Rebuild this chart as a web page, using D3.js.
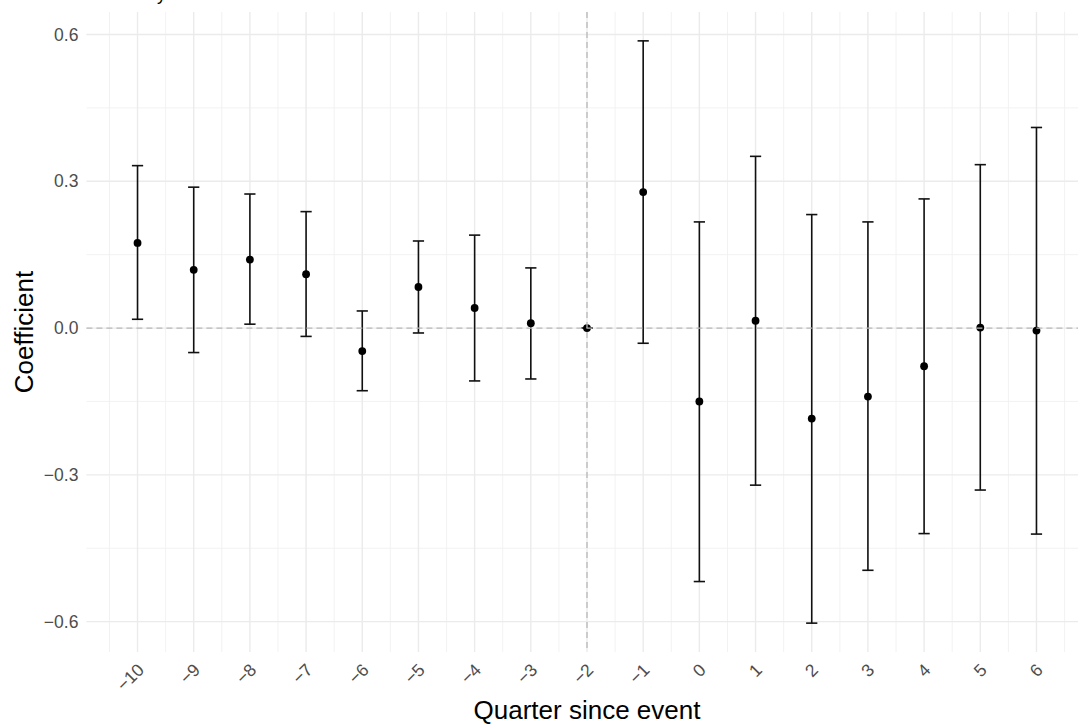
<!DOCTYPE html>
<html>
<head>
<meta charset="utf-8">
<script src="https://cdn.jsdelivr.net/npm/d3@7"></script>
<style>
  body { margin: 0; background: #fff; }
  svg { display: block; }
  text { font-family: "Liberation Sans", Arial, sans-serif; }
</style>
</head>
<body>
<div id="viz"></div>
<script>
// data
const quarters = [-10, -9, -8, -7, -6, -5, -4, -3, -2, -1, 0, 1, 2, 3, 4, 5, 6];
const coef  = [0.174, 0.119, 0.140, 0.110, -0.047, 0.084, 0.041, 0.010, 0.000, 0.278, -0.150, 0.015, -0.185, -0.140, -0.078, 0.001, -0.005];
const lower = [0.018, -0.050, 0.008, -0.017, -0.128, -0.010, -0.108, -0.104, 0.000, -0.031, -0.518, -0.321, -0.603, -0.495, -0.420, -0.331, -0.421];
const upper = [0.332, 0.288, 0.274, 0.238, 0.035, 0.178, 0.190, 0.123, 0.000, 0.587, 0.217, 0.351, 0.232, 0.217, 0.264, 0.334, 0.410];
const yTicks = [-0.6, -0.3, 0.0, 0.3, 0.6];
const yMinor = [-0.45, -0.15, 0.15, 0.45];

const w = 1078;
const h = 725;
const pTop = 12, pBottom = 652, pLeft = 86.4, pRight = 1087.6;

const svg = d3.select('#viz').
append('svg').
attr('width', w).
attr('height', h);

const xScale = d3.scaleLinear().
domain([-10.91, 6.91]).
range([pLeft, pRight]);

const yScale = d3.scaleLinear().
domain([-0.662, 0.646]).
range([pBottom, pTop]);

const xMinor = quarters.map(q => q - 0.5).concat([6.5]);

// grid
const grid = svg.append('g');
grid.selectAll('.yminor').
data(yMinor).
enter().
append('line').
attr('x1', pLeft).attr('x2', w).
attr('y1', d => yScale(d)).attr('y2', d => yScale(d)).
attr('stroke', '#f1f1f1').attr('stroke-width', 0.9);

grid.selectAll('.xminor').
data(xMinor).
enter().
append('line').
attr('x1', d => xScale(d)).attr('x2', d => xScale(d)).
attr('y1', pTop).attr('y2', pBottom).
attr('stroke', '#f1f1f1').attr('stroke-width', 0.9);

grid.selectAll('.ymajor').
data(yTicks).
enter().
append('line').
attr('x1', pLeft).attr('x2', w).
attr('y1', d => yScale(d)).attr('y2', d => yScale(d)).
attr('stroke', '#ebebeb').attr('stroke-width', 1.4);

grid.selectAll('.xmajor').
data(quarters).
enter().
append('line').
attr('x1', d => xScale(d)).attr('x2', d => xScale(d)).
attr('y1', pTop).attr('y2', pBottom).
attr('stroke', '#ebebeb').attr('stroke-width', 1.4);

// error bars
const rows = quarters.map((q, i) => ({ q: q, c: coef[i], lo: lower[i], hi: upper[i] }));
const bars = svg.append('g').attr('stroke', '#111').attr('stroke-width', 1.6);

bars.selectAll('.stem').
data(rows).
enter().
append('line').
attr('x1', d => xScale(d.q)).attr('x2', d => xScale(d.q)).
attr('y1', d => yScale(d.lo)).attr('y2', d => yScale(d.hi));

['lo', 'hi'].forEach(k => {
  bars.selectAll('.cap-' + k).
  data(rows).
  enter().
  append('line').
  attr('x1', d => xScale(d.q - 0.1)).attr('x2', d => xScale(d.q + 0.1)).
  attr('y1', d => yScale(d[k])).attr('y2', d => yScale(d[k]));
});

svg.append('g').
selectAll('circle').
data(rows).
enter().
append('circle').
attr('cx', d => xScale(d.q)).
attr('cy', d => yScale(d.c)).
attr('r', 3.9).
attr('fill', '#000');

// reference lines, on top like in ggplot
svg.append('line').
attr('x1', pLeft).attr('x2', w).
attr('y1', yScale(0)).attr('y2', yScale(0)).
attr('stroke', '#b8b8b8').attr('stroke-width', 1.3).attr('stroke-dasharray', '6,4');

svg.append('line').
attr('x1', xScale(-2)).attr('x2', xScale(-2)).
attr('y1', pTop).attr('y2', pBottom).
attr('stroke', '#b8b8b8').attr('stroke-width', 1.3).attr('stroke-dasharray', '6,4');

// axes
const yAxis = d3.axisLeft(yScale).
tickValues(yTicks).
tickSize(0).
tickPadding(8).
tickFormat(d => d3.format('.1f')(d).replace('-', '\u2212'));

svg.append('g').
attr('id', 'y-axis').
attr('transform', 'translate(' + pLeft + ', 0)').
call(yAxis).
call(g => g.select('.domain').remove()).
selectAll('text').
attr('fill', '#4d4d4d').
style('font-size', '17.5px');

const xAxis = d3.axisBottom(xScale).
tickValues(quarters).
tickSize(0).
tickFormat(d => String(d).replace('-', '\u2212'));

svg.append('g').
attr('id', 'x-axis').
attr('transform', 'translate(0, ' + pBottom + ')').
call(xAxis).
call(g => g.select('.domain').remove()).
selectAll('text').
attr('fill', '#4d4d4d').
style('font-size', '17.5px').
attr('text-anchor', 'end').
attr('dy', null).
attr('y', 0).
attr('transform', 'translate(7, 19) rotate(-45)');

svg.append('text').
attr('x', (pLeft + pRight) / 2).
attr('y', 719).
attr('text-anchor', 'middle').
style('font-size', '26px').
attr('fill', '#000').
text('Quarter since event');

svg.append('text').
attr('transform', 'translate(33, ' + (pTop + pBottom) / 2 + ') rotate(-90)').
attr('text-anchor', 'middle').
style('font-size', '26px').
attr('fill', '#000').
text('Coefficient');

// title clipped at the very top, as in the source image
svg.append('text').
attr('x', 0).
attr('y', 0).
style('font-size', '18px').
attr('fill', '#000').
text('Panel A: Event study');
</script>
</body>
</html>
